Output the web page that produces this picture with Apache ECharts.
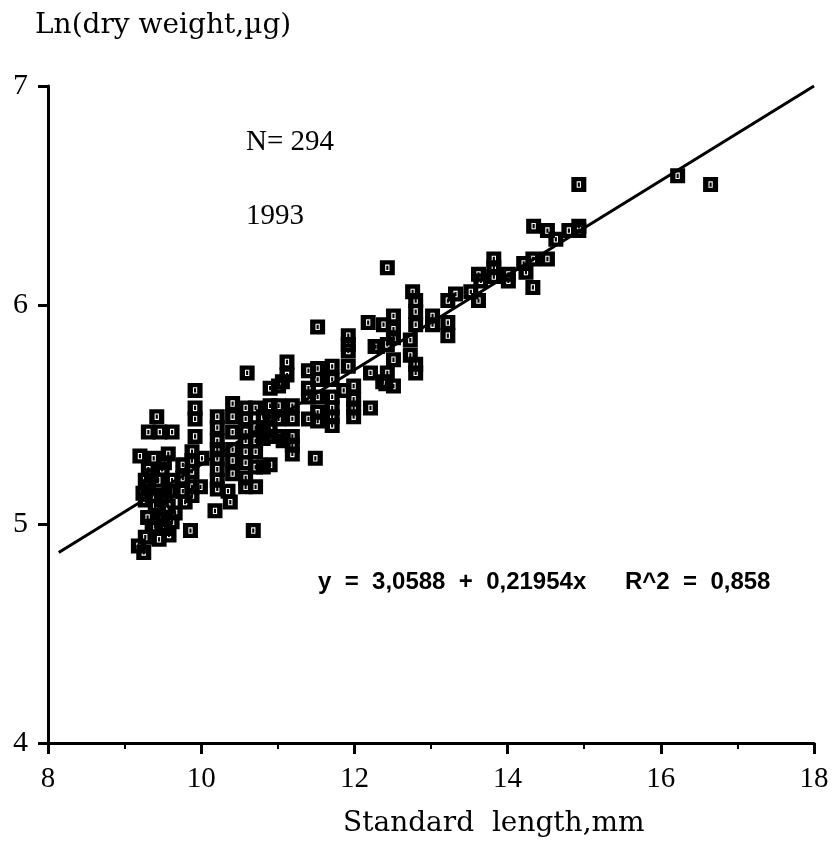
<!DOCTYPE html>
<html>
<head>
<meta charset="utf-8">
<script src="https://cdn.jsdelivr.net/npm/echarts@6/dist/echarts.min.js"></script>
<style>html,body{margin:0;padding:0;background:#fff;}#c{width:835px;height:854px;}</style>
</head>
<body>
<div id="c"></div>
<script>
// Standard length (mm) and Ln(dry weight, µg)
const standardLength = [
  9.18,9.27,9.36,9.53,9.44,9.40,9.57,9.36,9.53,9.31,9.44,9.62,9.66,9.20,9.57,9.42,9.31,9.46,9.62,9.31,9.49,9.27,9.27,
  9.24,9.35,9.48,9.60,9.40,9.50,9.62,9.30,9.45,9.58,9.25,9.52,9.38,
  9.76,9.88,10.01,9.76,9.88,9.76,9.88,9.99,9.88,9.79,9.92,9.92,9.92,9.92,9.88,9.86,
  10.21,10.21,10.21,10.21,10.21,10.21,10.21,10.21,10.18,
  10.41,10.41,10.41,10.41,10.41,10.35,10.41,10.38,
  10.60,10.58,10.58,10.58,10.58,10.58,10.58,10.58,10.58,10.68,
  10.71,10.71,10.71,10.71,10.71,10.71,10.81,10.81,10.81,10.81,
  10.90,10.90,10.90,10.90,10.90,10.90,11.01,11.01,11.01,11.01,11.07,11.06,11.12,11.12,
  11.19,11.19,11.19,11.19,11.19,
  11.40,11.40,11.40,11.40,11.52,11.52,11.52,11.52,11.52,11.52,11.49,
  11.71,11.71,11.71,11.71,11.71,11.71,11.86,11.92,11.92,11.92,11.92,11.99,11.99,11.99,11.99,
  12.18,12.21,12.21,12.27,12.38,12.30,12.43,12.43,12.37,12.43,12.51,12.51,12.51,12.51,12.51,12.41,
  12.76,12.80,12.80,12.80,12.73,12.73,12.80,12.80,
  13.02,13.02,13.22,13.22,13.22,13.32,13.52,13.62,13.62,13.65,13.82,13.82,13.82,
  14.01,14.01,14.21,14.24,14.33,14.33,14.52,14.34,14.52,14.63,14.80,14.93,14.93,14.93,
  16.22,16.65
];
const lnDryWeight = [
  4.90,4.94,4.99,4.98,5.04,5.08,5.08,5.13,5.13,5.17,5.20,5.20,5.05,5.31,5.32,5.49,5.42,5.42,5.42,5.25,5.25,5.20,5.11,
  5.14,5.22,5.11,5.15,4.99,5.02,5.01,5.03,4.93,4.95,4.87,5.28,5.30,
  5.27,5.29,5.30,5.21,5.24,5.15,5.17,5.17,5.13,5.10,5.61,5.53,5.48,5.40,5.33,4.97,
  5.49,5.44,5.38,5.34,5.30,5.25,5.20,5.16,5.06,
  5.55,5.49,5.42,5.34,5.29,5.15,5.23,5.10,
  5.69,5.53,5.48,5.42,5.38,5.33,5.28,5.21,5.17,4.97,
  5.53,5.44,5.38,5.33,5.26,5.17,5.49,5.43,5.39,5.26,
  5.62,5.54,5.49,5.43,5.40,5.27,5.63,5.54,5.48,5.40,5.38,5.65,5.74,5.68,
  5.54,5.48,5.40,5.36,5.32,
  5.70,5.62,5.58,5.48,5.90,5.71,5.66,5.58,5.51,5.47,5.30,
  5.72,5.66,5.58,5.53,5.49,5.45,5.61,5.86,5.82,5.79,5.72,5.63,5.57,5.53,5.49,
  5.92,5.69,5.53,5.81,5.91,5.81,5.82,5.69,5.65,6.17,5.95,5.89,5.85,5.75,5.63,5.64,
  6.06,6.02,5.97,5.91,5.84,5.77,5.73,5.69,
  5.91,5.95,6.02,5.92,5.86,6.05,6.06,6.02,6.14,6.11,6.21,6.17,6.13,
  6.14,6.11,6.19,6.15,6.08,6.21,6.21,6.36,6.34,6.30,6.34,6.36,6.34,6.55,
  6.59,6.55
];
// Fitted line endpoints as drawn
const fitLineX = [8.14, 18];
const fitLineY = [4.87, 7.0];
const xTicks = [8, 10, 12, 14, 16, 18];
const yTicks = [4, 5, 6, 7];

const points = standardLength.map((x, i) => [x, lnDryWeight[i]]);
const fitLine = fitLineX.map((x, i) => [x, fitLineY[i]]);

const marker = 'path://M0,0H14V14H0Z M5,4V10H9V4Z M6,5H8V9H6Z';
const numFont = '"Liberation Serif", serif';
const nameFont = '"DejaVu Serif", serif';

const chart = echarts.init(document.getElementById('c'), null, {renderer: 'canvas'});
chart.setOption({
  animation: false,
  backgroundColor: '#fff',
  grid: {left: 48, right: 21, top: 86, bottom: 111, containLabel: false},
  xAxis: {
    type: 'value', min: xTicks[0], max: xTicks[xTicks.length - 1], interval: 2,
    axisLine: {show: true, onZero: false, lineStyle: {color: '#000', width: 3}},
    axisTick: {show: true, inside: false, length: 11, lineStyle: {color: '#000', width: 3}},
    minorTick: {show: true, splitNumber: 2, length: 6, lineStyle: {color: '#000', width: 2}},
    axisLabel: {color: '#000', fontFamily: numFont, fontSize: 29, margin: 22},
    splitLine: {show: false}, minorSplitLine: {show: false}
  },
  yAxis: {
    type: 'value', min: yTicks[0], max: yTicks[yTicks.length - 1], interval: 1,
    axisLine: {show: true, onZero: false, lineStyle: {color: '#000', width: 3}},
    axisTick: {show: true, inside: false, length: 10, lineStyle: {color: '#000', width: 3}},
    axisLabel: {color: '#000', fontFamily: numFont, fontSize: 30, margin: 20},
    splitLine: {show: false}
  },
  series: [
    {
      type: 'scatter', data: points, symbol: marker, symbolSize: 15,
      itemStyle: {color: '#000', opacity: 1}, z: 2
    },
    {
      type: 'line', data: fitLine, showSymbol: false, symbol: 'none',
      lineStyle: {color: '#000', width: 3}, z: 3, silent: true
    }
  ],
  graphic: [
    {type: 'text', left: 35, top: 12, style: {text: 'Ln(dry weight,µg)', font: '28px ' + nameFont, fill: '#000'}},
    {type: 'text', left: 343, top: 810, style: {text: 'Standard  length,mm', font: '28px ' + nameFont, fill: '#000'}},
    {type: 'text', left: 246, top: 128, style: {text: 'N= 294', font: '29px ' + numFont, fill: '#000'}},
    {type: 'text', left: 246, top: 202, style: {text: '1993', font: '29px ' + numFont, fill: '#000'}},
    {type: 'text', left: 318, top: 570, style: {text: 'y  =  3,0588  +  0,21954x', font: 'bold 24px "Liberation Sans", Arial, sans-serif', fill: '#000'}},
    {type: 'text', left: 625, top: 570, style: {text: 'R^2  =  0,858', font: 'bold 24px "Liberation Sans", Arial, sans-serif', fill: '#000'}}
  ]
});
</script>
</body>
</html>
